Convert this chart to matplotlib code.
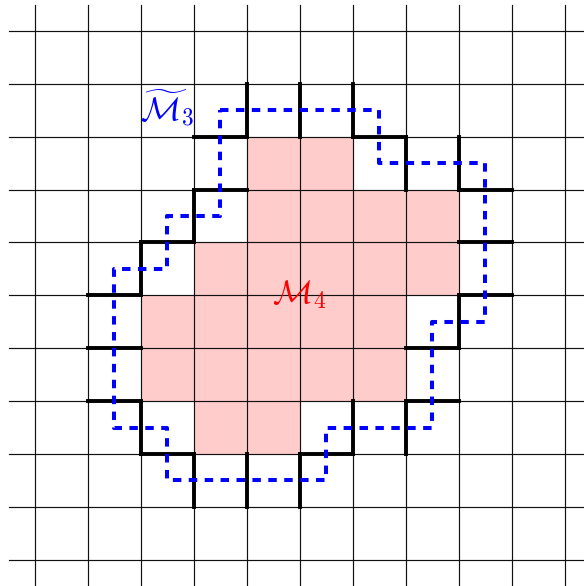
import matplotlib
matplotlib.use("Agg")
import matplotlib.pyplot as plt
import numpy as np

plt.rcParams['mathtext.fontset'] = 'cm'

# ---- data (lattice units: vertical line index i, horizontal line index j counted downward) ----
grid_lines = list(range(0, 11))          # lattice lines 0..10
grid_extent = (-0.5, 10.5)

# pink cells of M4: row -> (first column, number of columns)
pink_rows = [2, 3, 4, 5, 6, 7]
pink_start = [4, 4, 3, 2, 2, 3]
pink_count = [2, 4, 5, 5, 5, 2]

# thick boundary edges
thick_vertical = [(4, 1), (5, 1), (6, 1), (7, 2), (8, 2), (3, 3), (2, 4),
                  (8, 5), (7, 7), (6, 7), (2, 7), (3, 8), (4, 8), (5, 8)]   # (i, j0): (i,j0)-(i,j0+1)
thick_horizontal = [(3, 2), (6, 2), (3, 3), (8, 3), (8, 4), (2, 4), (8, 5),
                    (1, 5), (1, 6), (1, 7), (7, 6), (7, 7), (5, 8), (2, 8)]  # (i0, j): (i0,j)-(i0+1,j)

# dashed blue contour (cell-centre coordinates)
blue_x = [3.5, 6.5, 6.5, 8.5, 8.5, 7.5, 7.5, 5.5, 5.5, 2.5, 2.5, 1.5, 1.5, 2.5, 2.5, 3.5, 3.5]
blue_y = [1.5, 1.5, 2.5, 2.5, 5.5, 5.5, 7.5, 7.5, 8.5, 8.5, 7.5, 7.5, 4.5, 4.5, 3.5, 3.5, 1.5]

label_tilde = r'$\widetilde{\mathcal{M}}_3$'
label_tilde_pos = (2.49, 1.47)
label_m4 = r'$\mathcal{M}_4$'
label_m4_pos = (4.98, 4.98)

# ---- figure ----
fig = plt.figure(figsize=(5.84, 5.86), dpi=100)
ax = fig.add_axes([0, 0, 1, 1])
ax.set_xlim(-35 / 52.97, (584 - 35) / 52.97)
ax.set_ylim((586 - 31) / 52.87, -31 / 52.87)
ax.axis('off')

pink = '#FFCCCC'
ax.barh(pink_rows, pink_count, left=pink_start, height=1, align='edge',
        color=pink, edgecolor='none', zorder=1)

for g in grid_lines:
    ax.plot([g, g], grid_extent, color='#111111', lw=0.85, zorder=2)
    ax.plot(grid_extent, [g, g], color='#111111', lw=0.85, zorder=2)

for (i, j0) in thick_vertical:
    ax.plot([i, i], [j0, j0 + 1], color='black', lw=2.8,
            solid_capstyle='projecting', zorder=3)
for (i0, j) in thick_horizontal:
    ax.plot([i0, i0 + 1], [j, j], color='black', lw=2.8,
            solid_capstyle='projecting', zorder=3)

ax.plot(blue_x, blue_y, color='#0000FF', lw=2.9, linestyle=(0, (2.1, 1.85)),
        dash_capstyle='butt', zorder=4)

ax.text(*label_tilde_pos, label_tilde, color='#0000FF', fontsize=24,
        ha='center', va='center', zorder=5)
ax.text(*label_m4_pos, label_m4, color='#FF0000', fontsize=24,
        ha='center', va='center', zorder=5)

fig.savefig('out.png', dpi=100)
